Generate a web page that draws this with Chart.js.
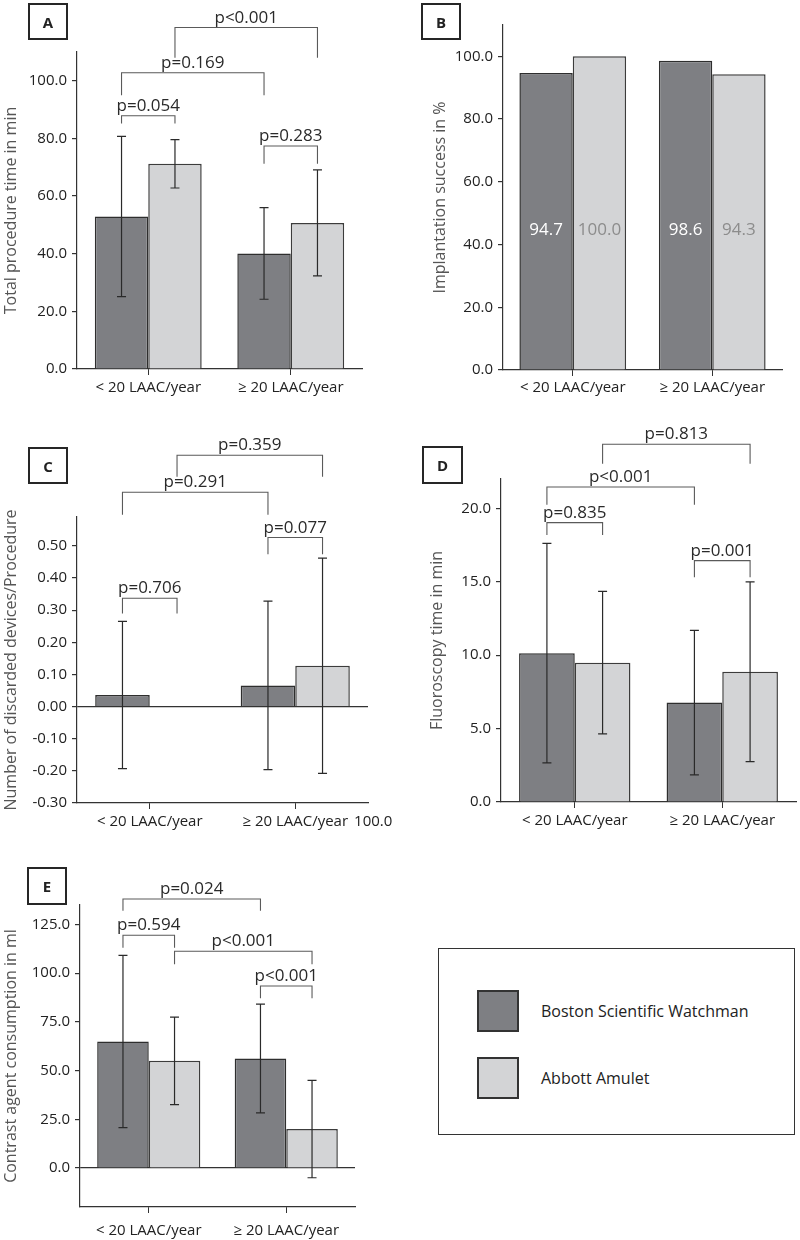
<!DOCTYPE html>
<html>
<head>
<meta charset="utf-8">
<script src="https://cdn.jsdelivr.net/npm/chart.js@4.4.0/dist/chart.umd.min.js"></script>
<style>
  body { margin: 0; background: #fff; }
  #page { position: relative; width: 800px; height: 1240px; font-family: 'Open Sans', sans-serif; }
  .panel { position: absolute; }
  .tag { position: absolute; box-sizing: border-box; border: 2px solid #262626; font-weight: bold;
         font-size: 15px; color: #222; display: flex; align-items: center; justify-content: center; }
  #legend { position: absolute; left: 438px; top: 948px; width: 357px; height: 187px;
            box-sizing: border-box; border: 1.5px solid #333; }
  .item { position: absolute; left: 38px; display: flex; align-items: center; font-size: 16px; color: #222; }
  .swatch { width: 42px; height: 42px; box-sizing: border-box; border: 2px solid #333; margin-right: 22px; }
</style>
</head>
<body>
<div id="page">
  <canvas id="chartA" class="panel" width="400" height="420" style="left:0;top:0"></canvas>
  <canvas id="chartB" class="panel" width="400" height="420" style="left:400px;top:0"></canvas>
  <canvas id="chartC" class="panel" width="400" height="420" style="left:0;top:420px"></canvas>
  <canvas id="chartD" class="panel" width="400" height="420" style="left:400px;top:420px"></canvas>
  <canvas id="chartE" class="panel" width="400" height="420" style="left:0;top:820px"></canvas>
  <div class="tag" style="left:28px;top:3px;width:40px;height:37px">A</div>
  <div class="tag" style="left:421px;top:3px;width:40px;height:37px">B</div>
  <div class="tag" style="left:28px;top:447px;width:40px;height:37px">C</div>
  <div class="tag" style="left:422px;top:446px;width:41px;height:38px">D</div>
  <div class="tag" style="left:27px;top:867px;width:40px;height:38px">E</div>
  <div id="legend"></div>
</div>
<script>
// groups and devices
const groups = ['< 20 LAAC/year', '≥ 20 LAAC/year'];
const devices = ['Boston Scientific Watchman', 'Abbott Amulet'];

// A: total procedure time in min (mean, SD)
const procWatchman = [52.9, 40.1];
const procWatchmanSd = [27.8, 15.9];
const procAmulet = [71.2, 50.7];
const procAmuletSd = [8.4, 18.4];
// from/to = [group, device]
const procBrackets = [
  { from: [0, 0], to: [0, 1], top: 87.9, foot: 85.2, text: 'p=0.054' },
  { from: [0, 0], to: [1, 0], top: 102.8, foot: 95.0, text: 'p=0.169' },
  { from: [0, 1], to: [1, 1], top: 118.5, foot: 108.0, text: 'p<0.001' },
  { from: [1, 0], to: [1, 1], top: 77.4, foot: 71.2, text: 'p=0.283' }
];

// B: implantation success in %
const successWatchman = [94.7, 98.6];
const successAmulet = [100.0, 94.3];

// C: discarded devices per procedure
const discardWatchman = [0.036, 0.066];
const discardWatchmanSd = [0.229, 0.262];
const discardAmulet = [0.0, 0.127];
const discardAmuletSd = [0, 0.335];
const discardBrackets = [
  { from: [0, 0], to: [0, 1], top: 0.337, foot: 0.29, text: 'p=0.706' },
  { from: [1, 0], to: [1, 1], top: 0.526, foot: 0.474, text: 'p=0.077' },
  { from: [0, 0], to: [1, 0], top: 0.667, foot: 0.597, text: 'p=0.291' },
  { from: [0, 1], to: [1, 1], top: 0.782, foot: 0.715, text: 'p=0.359' }
];
const discardStrayLabel = '100.0';

// D: fluoroscopy time in min
const fluoroWatchman = [10.14, 6.77];
const fluoroWatchmanSd = [7.47, 4.92];
const fluoroAmulet = [9.49, 8.87];
const fluoroAmuletSd = [4.85, 6.12];
const fluoroBrackets = [
  { from: [0, 0], to: [0, 1], top: 19.03, foot: 18.19, text: 'p=0.835' },
  { from: [0, 0], to: [1, 0], top: 21.46, foot: 20.25, text: 'p<0.001' },
  { from: [0, 1], to: [1, 1], top: 24.37, foot: 23.04, text: 'p=0.813' },
  { from: [1, 0], to: [1, 1], top: 16.44, foot: 15.3, text: 'p=0.001' }
];

// E: contrast agent consumption in ml
const contrastWatchman = [64.9, 56.2];
const contrastWatchmanSd = [44.2, 27.9];
const contrastAmulet = [55.0, 20.0];
const contrastAmuletSd = [22.5, 25.0];
const contrastBrackets = [
  { from: [0, 0], to: [1, 0], top: 138.1, foot: 132, text: 'p=0.024' },
  { from: [0, 0], to: [0, 1], top: 119.5, foot: 113, text: 'p=0.594' },
  { from: [0, 1], to: [1, 1], top: 111.3, foot: 104.6, text: 'p<0.001' },
  { from: [1, 0], to: [1, 1], top: 93.4, foot: 87.1, text: 'p<0.001' }
];

const FONT = "'Open Sans', sans-serif";
const DARK = '#7e7f83';
const LIGHT = '#d3d4d6';
const AXIS = '#333';

// draws error bars, p-value brackets and in-bar labels
function makeMarks(cfg) {
  return {
    id: 'marks',
    afterDraw(chart) {
      const ctx = chart.ctx;
      const y = chart.scales.y;
      const barX = (g, s) => chart.getDatasetMeta(s).data[g].x;
      ctx.save();

      (cfg.sd || []).forEach((sdList, s) => {
        const vals = chart.data.datasets[s].data;
        sdList.forEach((sd, g) => {
          if (!sd) return;
          const x = barX(g, s);
          const hi = y.getPixelForValue(vals[g] + sd);
          const lo = y.getPixelForValue(vals[g] - sd);
          ctx.strokeStyle = '#2a2a2a';
          ctx.lineWidth = 1.2;
          ctx.beginPath();
          ctx.moveTo(x, hi); ctx.lineTo(x, lo);
          ctx.moveTo(x - 4.5, hi); ctx.lineTo(x + 4.5, hi);
          ctx.moveTo(x - 4.5, lo); ctx.lineTo(x + 4.5, lo);
          ctx.stroke();
        });
      });

      (cfg.brackets || []).forEach(b => {
        const x1 = barX(b.from[0], b.from[1]);
        const x2 = barX(b.to[0], b.to[1]);
        const top = y.getPixelForValue(b.top);
        const foot = y.getPixelForValue(b.foot);
        ctx.strokeStyle = '#5a5a5a';
        ctx.lineWidth = 1.1;
        ctx.beginPath();
        ctx.moveTo(x1, foot); ctx.lineTo(x1, top); ctx.lineTo(x2, top); ctx.lineTo(x2, foot);
        ctx.stroke();
        ctx.fillStyle = '#2a2a2a';
        ctx.font = '17px ' + FONT;
        ctx.textAlign = 'center';
        ctx.textBaseline = 'alphabetic';
        ctx.fillText(b.text, (x1 + x2) / 2, top - 5);
      });

      if (cfg.valueLabels) {
        ctx.font = '17px ' + FONT;
        ctx.textAlign = 'center';
        ctx.textBaseline = 'middle';
        chart.data.datasets.forEach((ds, s) => {
          ds.data.forEach((v, g) => {
            ctx.fillStyle = s === 0 ? '#ffffff' : '#8c8c8c';
            ctx.fillText(v.toFixed(1), barX(g, s), y.getPixelForValue(44.6));
          });
        });
      }

      if (cfg.stray) {
        const xs = chart.scales.x;
        const lastX = xs.getPixelForTick(groups.length - 1);
        ctx.font = '15px ' + FONT;
        const half = ctx.measureText(groups[groups.length - 1]).width / 2;
        ctx.fillStyle = '#222';
        ctx.textAlign = 'left';
        ctx.textBaseline = 'middle';
        ctx.fillText(cfg.stray, lastX + half + 6, cfg.area.bottom + 6 + cfg.labelPad + 9);
      }
      ctx.restore();
    }
  };
}

function makePanel(id, cfg) {
  const a = cfg.area;
  return new Chart(document.getElementById(id), {
    type: 'bar',
    data: {
      labels: groups,
      datasets: [
        { label: devices[0], data: cfg.dark, backgroundColor: DARK, borderColor: '#2e2e2e', borderWidth: 1.5 },
        { label: devices[1], data: cfg.light, backgroundColor: LIGHT, borderColor: '#3c3c3c', borderWidth: 1.5 }
      ]
    },
    options: {
      responsive: false,
      animation: false,
      layout: { padding: { top: a.top, left: cfg.padLeft, right: 400 - a.right, bottom: 0 } },
      datasets: { bar: { categoryPercentage: cfg.catPct, barPercentage: 1 } },
      plugins: { legend: { display: false }, tooltip: { enabled: false } },
      scales: {
        x: {
          offset: true,
          grid: { display: true, drawOnChartArea: false, drawTicks: true, tickLength: 6, offset: false, color: AXIS },
          border: { display: true, color: AXIS, width: 1.2 },
          ticks: { color: '#222', font: { family: FONT, size: 15 }, padding: cfg.labelPad, maxRotation: 0, autoSkip: false },
          afterFit: s => { s.height = 420 - a.bottom; }
        },
        y: {
          min: cfg.min,
          max: cfg.max,
          ticks: {
            stepSize: cfg.step,
            color: '#222',
            font: { family: FONT, size: 15 },
            padding: 5,
            callback: v => Number(v).toFixed(cfg.decimals)
          },
          grid: {
            drawOnChartArea: !!cfg.zeroLine,
            color: c => (c.tick && Math.abs(c.tick.value) < 1e-9) ? AXIS : 'rgba(0,0,0,0)',
            tickColor: AXIS,
            tickLength: 5,
            lineWidth: 1.2
          },
          border: { display: true, color: AXIS, width: 1.2 },
          title: { display: true, text: cfg.title, color: '#555', font: { family: FONT, size: 16 }, padding: { top: 2, bottom: 0 } },
          afterFit: s => { s.width = a.left - cfg.padLeft; },
          afterBuildTicks: s => {
            s.ticks = s.ticks.filter(t => {
              const k = t.value / cfg.step;
              return Math.abs(k - Math.round(k)) < 1e-6;
            });
          }
        }
      }
    },
    plugins: [makeMarks(cfg)]
  });
}

makePanel('chartA', {
  dark: procWatchman, light: procAmulet, sd: [procWatchmanSd, procAmuletSd], brackets: procBrackets,
  title: 'Total procedure time in min', min: 0, max: 110, step: 20, decimals: 1,
  area: { left: 77, top: 52, right: 362, bottom: 369 }, padLeft: 0, labelPad: 4, catPct: 0.75
});

makePanel('chartB', {
  dark: successWatchman, light: successAmulet, valueLabels: true,
  title: 'Implantation success in %', min: 0, max: 110, step: 20, decimals: 1,
  area: { left: 103, top: 25, right: 382, bottom: 370 }, padLeft: 29, labelPad: 3, catPct: 0.765
});

makePanel('chartC', {
  dark: discardWatchman, light: discardAmulet, sd: [discardWatchmanSd, discardAmuletSd], brackets: discardBrackets,
  title: 'Number of discarded devices/Procedure', min: -0.3, max: 0.59, step: 0.1, decimals: 2, zeroLine: true,
  area: { left: 77, top: 97, right: 368, bottom: 383 }, padLeft: 0, labelPad: 4, catPct: 0.75, stray: discardStrayLabel
});

makePanel('chartD', {
  dark: fluoroWatchman, light: fluoroAmulet, sd: [fluoroWatchmanSd, fluoroAmuletSd], brackets: fluoroBrackets,
  title: 'Fluoroscopy time in min', min: 0, max: 22, step: 5, decimals: 1,
  area: { left: 101, top: 59, right: 396, bottom: 382 }, padLeft: 26, labelPad: 4, catPct: 0.755
});

makePanel('chartE', {
  dark: contrastWatchman, light: contrastAmulet, sd: [contrastWatchmanSd, contrastAmuletSd], brackets: contrastBrackets,
  title: 'Contrast agent consumption in ml', min: -20, max: 135, step: 25, decimals: 1, zeroLine: true,
  area: { left: 80, top: 85, right: 355, bottom: 387 }, padLeft: 0, labelPad: 9, catPct: 0.75
});

// legend box
const legend = document.getElementById('legend');
[DARK, LIGHT].forEach((col, i) => {
  const item = document.createElement('div');
  item.className = 'item';
  item.style.top = (i === 0 ? 41 : 108) + 'px';
  item.innerHTML = '<div class="swatch" style="background:' + col + '"></div><span>' + devices[i] + '</span>';
  legend.appendChild(item);
});
</script>
</body>
</html>
